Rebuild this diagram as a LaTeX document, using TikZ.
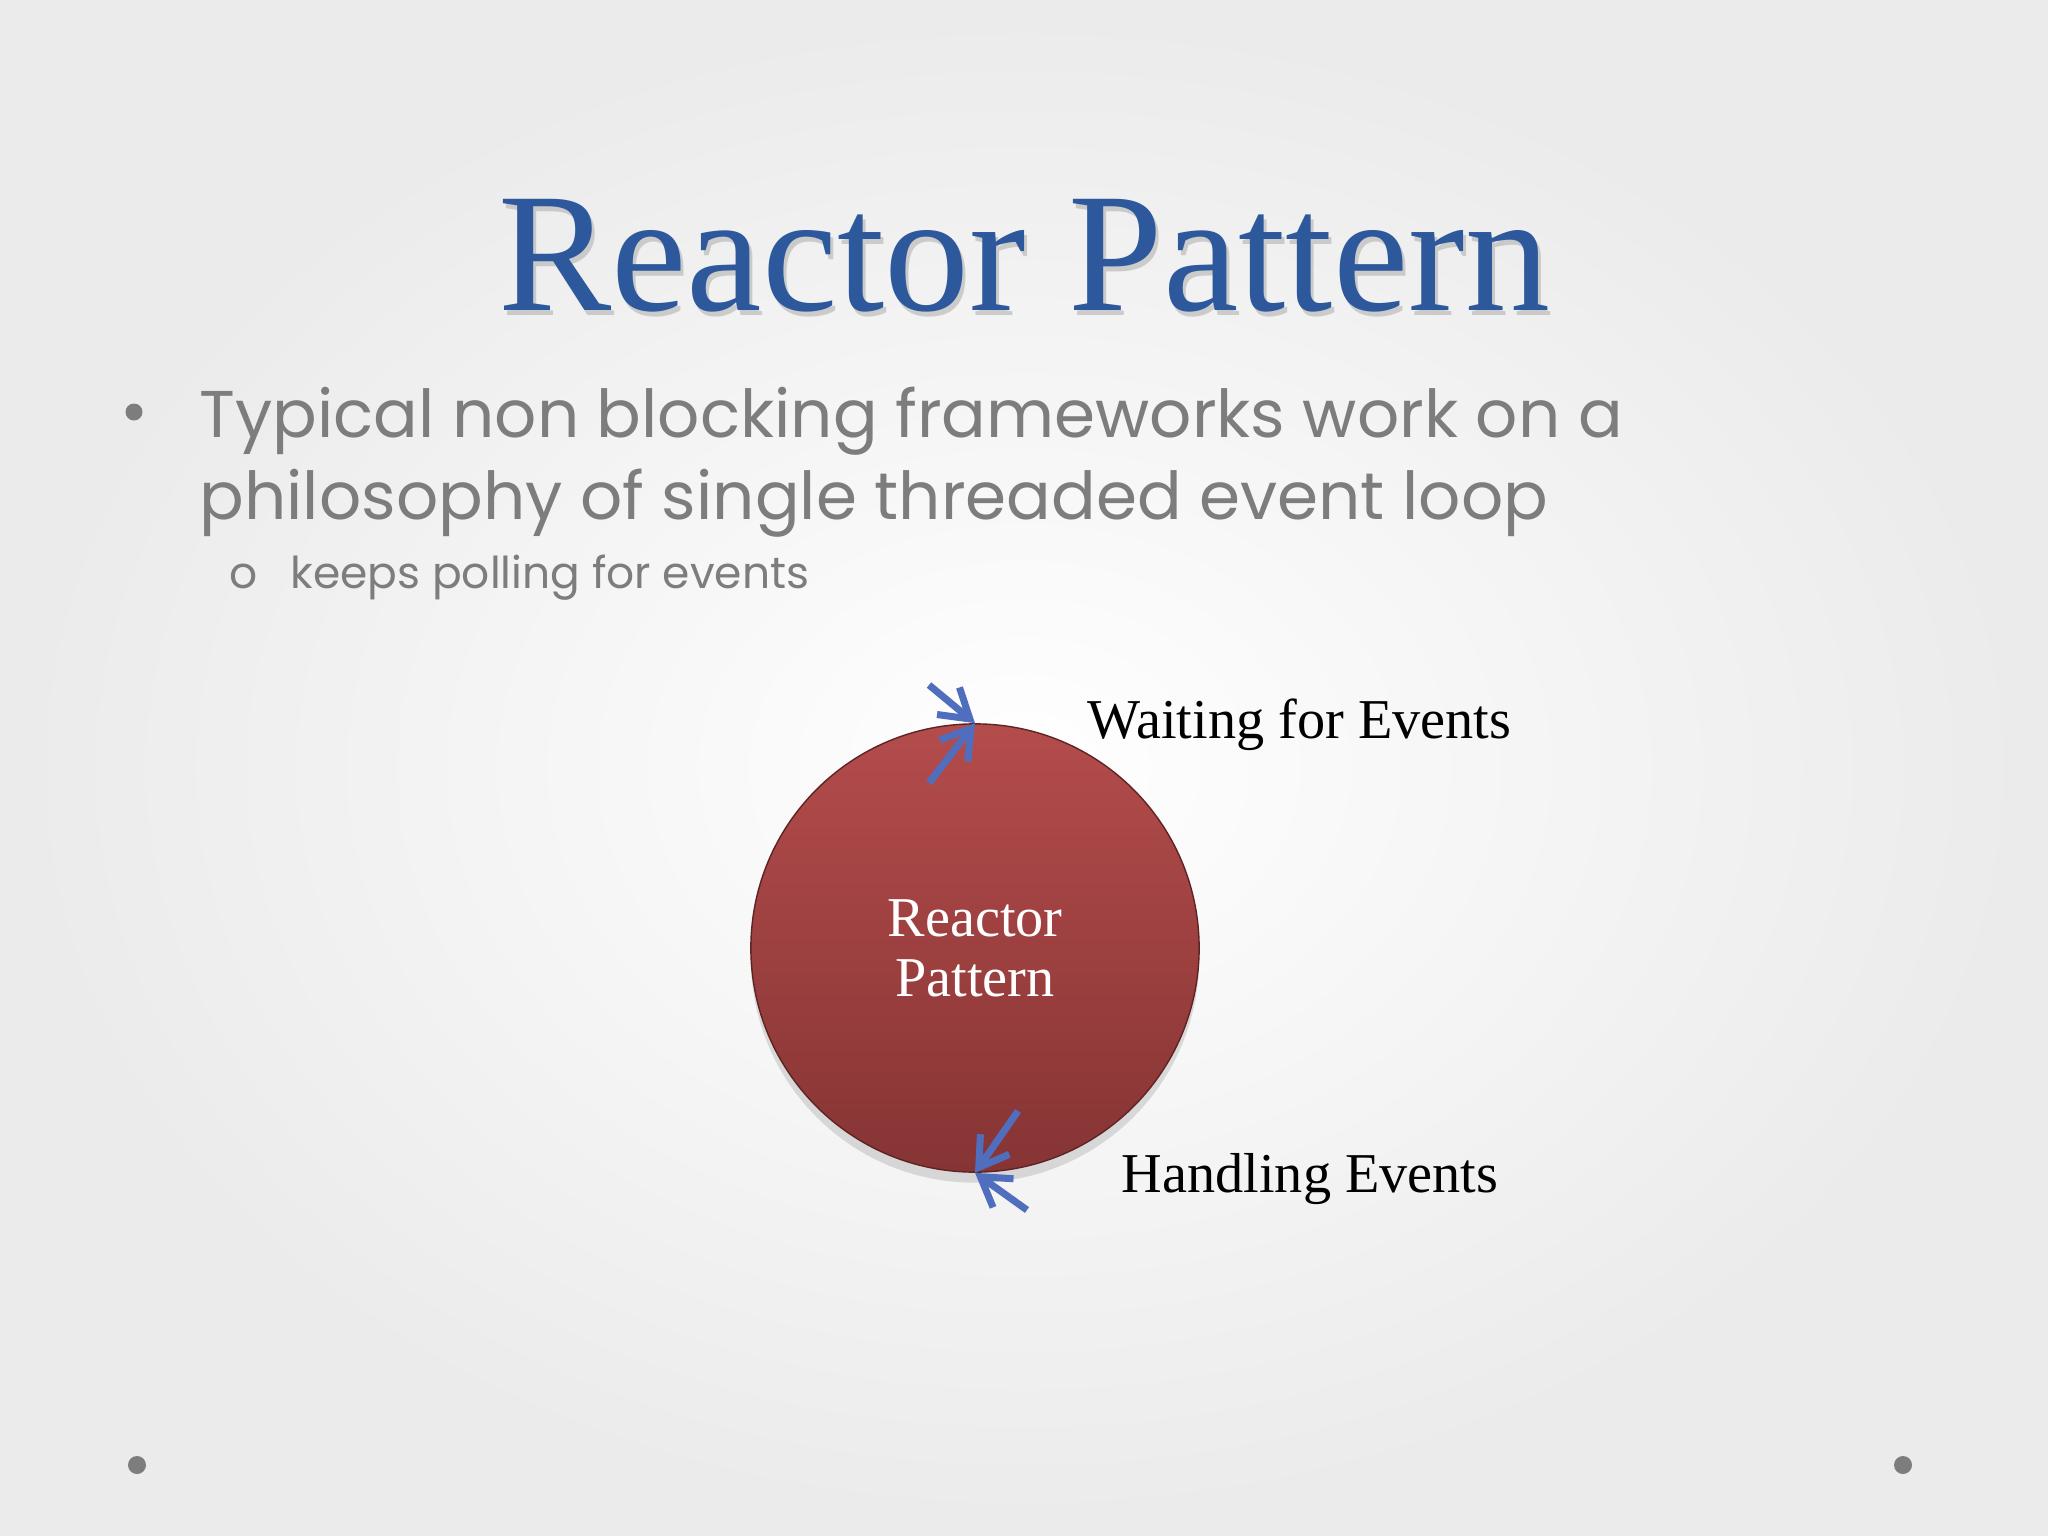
\documentclass[tikz,border=0pt]{standalone}
\usepackage{fontspec}
\setmainfont{Liberation Serif}
\newfontfamily\bodyfont{Poppins}
\usetikzlibrary{arrows.meta,shadows}
\definecolor{titleblue}{RGB}{46,88,156}
\definecolor{textgray}{RGB}{125,125,125}
\definecolor{ballTop}{RGB}{180,76,76}
\definecolor{ballBottom}{RGB}{134,52,52}
\definecolor{arrowblue}{RGB}{80,110,190}
\tikzset{
  evarrow/.style={-{Straight Barb[length=8pt,width=10pt,line width=2pt]}, draw=arrowblue, line width=2pt},
  evlabel/.style={anchor=base west, inner sep=0pt, font=\fontsize{16}{18}\selectfont}
}

\begin{document}
\begin{tikzpicture}[x=0.01cm,y=-0.01cm]
  \shade[inner color=white, outer color=black!8] (0,0) rectangle (2048,1536);
  \useasboundingbox (0,0) rectangle (2048,1536);

  % title
  \node [text=black!35, opacity=0.5, anchor=base, font=\fontsize{48.3}{50}\selectfont] at (1027,315) {Reactor Pattern};
  \node (title) [text=titleblue, anchor=base, font=\fontsize{48.3}{50}\selectfont] at (1024,310) {Reactor Pattern};

  % bullets
  \begin{scope}[every node/.style={anchor=base west, text=textgray, inner sep=0pt}]
    \node (line1) [font=\bodyfont\fontsize{18.8}{24}\selectfont] at (199,437) {Typical non blocking frameworks work on a};
    \node (line2) [font=\bodyfont\fontsize{18.8}{24}\selectfont] at (199,519) {philosophy of single threaded event loop};
    \node (subdot) [font=\bodyfont\fontsize{12.5}{16}\selectfont] at (229,588) {o};
    \node (sub) [font=\bodyfont\fontsize{12.5}{16}\selectfont] at (290,588) {keeps polling for events};
  \end{scope}
  \fill[textgray] (134,412) circle (8.5);
  \fill[textgray] (137,1465) circle (9) (1903,1465) circle (9);

  % the loop
  \node (rp) [circle, minimum size=4.48cm, inner sep=0pt, draw=ballBottom!70!black, line width=0.4pt,
    top color=ballTop, bottom color=ballBottom, drop shadow={opacity=0.25, shadow xshift=0pt, shadow yshift=-3pt},
    text=white, align=center, font=\fontsize{16}{17}\selectfont] at (975,948) {Reactor\\Pattern};

  \coordinate (waitA) at (929,685);
  \coordinate (waitB) at (929,783);
  \coordinate (handA) at (1018,1111);
  \coordinate (handB) at (1027,1210);

  \draw [evarrow] (waitA) -- (rp.north);
  \draw [evarrow] (waitB) -- (rp.north);
  \draw [evarrow] (handA) -- (rp.south);
  \draw [evarrow] (handB) -- (rp.south);

  \node (wait) [evlabel] at (1087,738) {Waiting for Events};
  \node (hand) [evlabel] at (1121,1192) {Handling Events};
\end{tikzpicture}
\end{document}
